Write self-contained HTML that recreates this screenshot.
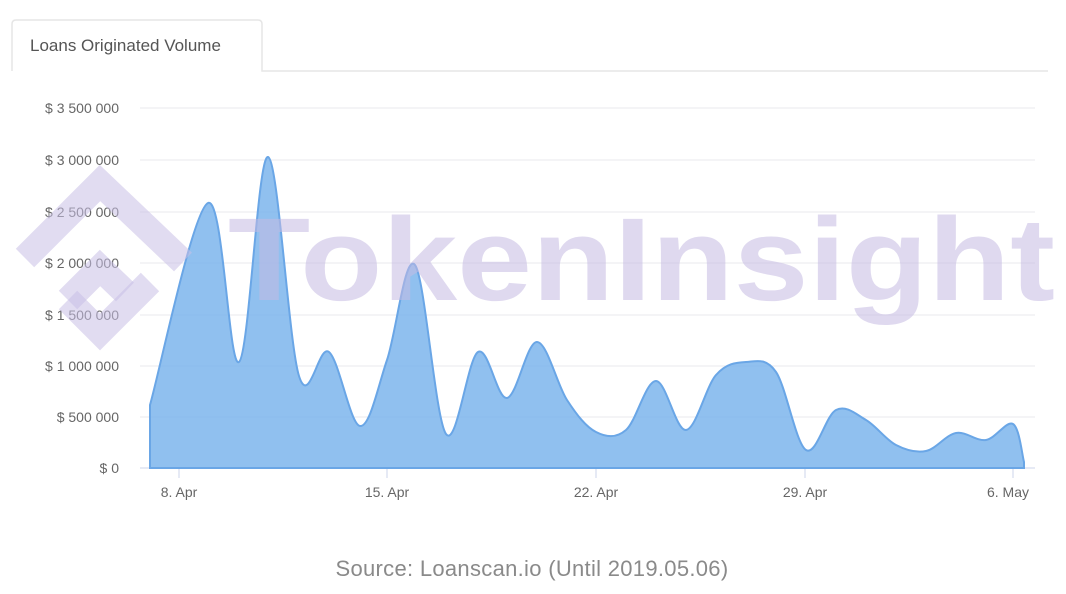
<!DOCTYPE html>
<html><head><meta charset="utf-8"><style>
body{margin:0;width:1066px;height:594px;background:#fff;overflow:hidden;font-family:"Liberation Sans",sans-serif}
</style></head><body>
<svg width="1066" height="594" xmlns="http://www.w3.org/2000/svg" style="position:absolute;left:0;top:0">
<path d="M12 71 V24 Q12 20 16 20 H258 Q262 20 262 24 V71 H1048" fill="none" stroke="#e6e6e6" stroke-width="1.5"/>
<text x="30" y="51" font-size="17" fill="#555">Loans Originated Volume</text>
<g stroke="#e8e8ee" stroke-width="1">
<line x1="140" x2="1035" y1="108" y2="108"/><line x1="140" x2="1035" y1="160" y2="160"/>
<line x1="140" x2="1035" y1="212" y2="212"/><line x1="140" x2="1035" y1="263" y2="263"/>
<line x1="140" x2="1035" y1="315" y2="315"/><line x1="140" x2="1035" y1="366" y2="366"/>
<line x1="140" x2="1035" y1="417" y2="417"/></g>
<line x1="140" x2="1035" y1="468" y2="468" stroke="#ccd6eb"/>
<g font-size="14" fill="#666" text-anchor="end">
<text x="119" y="113">$ 3 500 000</text><text x="119" y="165">$ 3 000 000</text>
<text x="119" y="217">$ 2 500 000</text><text x="119" y="268">$ 2 000 000</text>
<text x="119" y="320">$ 1 500 000</text><text x="119" y="371">$ 1 000 000</text>
<text x="119" y="422">$ 500 000</text><text x="119" y="473">$ 0</text></g>
<g stroke="#ccd6eb"><line x1="179" x2="179" y1="468" y2="478"/><line x1="387" x2="387" y1="468" y2="478"/><line x1="596" x2="596" y1="468" y2="478"/><line x1="805" x2="805" y1="468" y2="478"/><line x1="1013" x2="1013" y1="468" y2="478"/></g>
<g font-size="14" fill="#666" text-anchor="middle">
<text x="179" y="497">8. Apr</text><text x="387" y="497">15. Apr</text><text x="596" y="497">22. Apr</text><text x="805" y="497">29. Apr</text><text x="1008" y="497">6. May</text></g>
<path id="area" fill="#7cb5ec" fill-opacity="0.85" stroke="#6aa6e6" stroke-width="2"/>
<g fill="none" stroke="#c9c0e6" stroke-opacity="0.55" stroke-width="26">
<polyline points="25,258 100,183 183,262"/>
<polyline points="68,300 100,268 125,292"/>
<polyline points="68,300 100,332 150,282"/>
</g>
<text x="228" y="300" font-family="Liberation Sans,sans-serif" font-weight="bold" font-size="118" fill="#c4bae2" fill-opacity="0.55" textLength="827" lengthAdjust="spacingAndGlyphs">TokenInsight</text>
<text x="532" y="576" font-size="22" fill="#8a8a8a" text-anchor="middle" letter-spacing="0.3">Source: Loanscan.io (Until 2019.05.06)</text>
</svg>
<script>
var p=[[150,405],[208,203],[239,362],[268,157],[299,376],[329,352],[360,426],[387,360],[415,265],[446,434],[478,352],[507,398],[537,342],[567,400],[596,432],[626,430],[656,381],[686,430],[716,375],[746,362],[776,372],[806,450],[836,410],[866,420],[896,445],[926,451],[956,433],[986,440],[1013,424],[1024,462]];
var d="M150 468 L"+p[0][0]+" "+p[0][1];
for(var i=0;i<p.length-1;i++){var a=p[i-1]||p[i],b=p[i],c=p[i+1],e=p[i+2]||c,t=0.17;
d+=" C"+(b[0]+(c[0]-a[0])*t)+" "+(b[1]+(c[1]-a[1])*t)+" "+(c[0]-(e[0]-b[0])*t)+" "+(c[1]-(e[1]-b[1])*t)+" "+c[0]+" "+c[1];}
d+=" L1024 468 Z";document.getElementById("area").setAttribute("d",d);
</script>
</body></html>
